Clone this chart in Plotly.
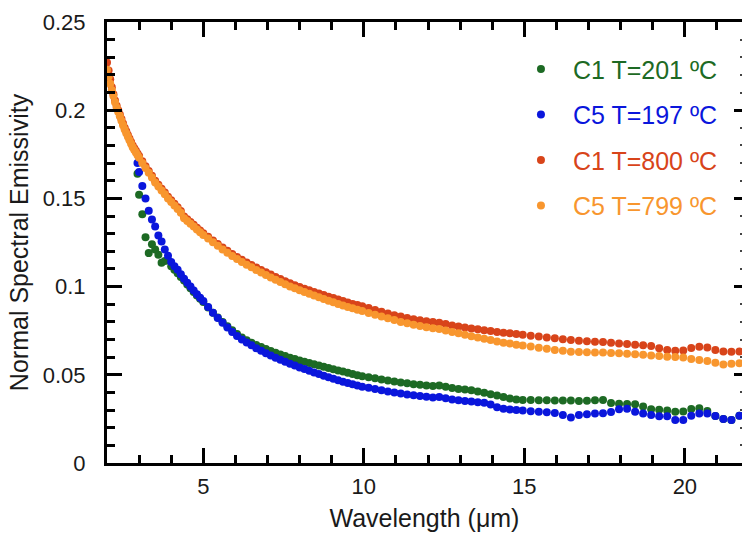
import plotly.graph_objects as go

# Wavelength grid (micrometres)
wavelength = [
    2.00, 2.05, 2.10, 2.15, 2.20, 2.25, 2.30, 2.35, 2.40, 2.45,
    2.50, 2.55, 2.60, 2.65, 2.70, 2.75, 2.80, 2.85, 2.90, 2.95,
    3.00, 3.10, 3.20, 3.30, 3.40, 3.50, 3.60, 3.70, 3.80, 3.90,
    4.00, 4.10, 4.20, 4.30, 4.40, 4.50, 4.60, 4.70, 4.80, 4.90,
    5.00, 5.15, 5.30, 5.45, 5.60, 5.75, 5.90, 6.05, 6.20, 6.35,
    6.50, 6.65, 6.80, 6.95, 7.10, 7.25, 7.40, 7.55, 7.70, 7.85,
    8.00, 8.15, 8.30, 8.45, 8.60, 8.75, 8.90, 9.05, 9.20, 9.35,
    9.50, 9.65, 9.80, 9.95, 10.15, 10.35, 10.55, 10.75, 10.95, 11.15,
    11.35, 11.55, 11.75, 11.95, 12.15, 12.35, 12.55, 12.75, 12.95, 13.15,
    13.35, 13.55, 13.75, 13.95, 14.15, 14.35, 14.55, 14.75, 14.95, 15.20,
    15.45, 15.70, 15.95, 16.20, 16.45, 16.70, 16.95, 17.20, 17.45, 17.70,
    17.95, 18.20, 18.45, 18.70, 18.95, 19.20, 19.45, 19.70, 19.95, 20.20,
    20.45, 20.70, 20.95, 21.20, 21.45, 21.70,
]
# low-temperature measurements start at 2.95 um
wavelength_low = wavelength[19:]

c1_800 = [
    0.2270, 0.2225, 0.2175, 0.2130, 0.2090, 0.2055, 0.2025, 0.2000, 0.1975, 0.1950,
    0.1925, 0.1900, 0.1880, 0.1860, 0.1840, 0.1820, 0.1800, 0.1785, 0.1770, 0.1755,
    0.1740, 0.1710, 0.1682, 0.1655, 0.1628, 0.1600, 0.1577, 0.1555, 0.1533, 0.1510,
    0.1490, 0.1470, 0.1450, 0.1428, 0.1398, 0.1382, 0.1366, 0.1350, 0.1334, 0.1318,
    0.1303, 0.1282, 0.1261, 0.1241, 0.1222, 0.1203, 0.1185, 0.1168, 0.1152, 0.1137,
    0.1122, 0.1108, 0.1094, 0.1081, 0.1068, 0.1055, 0.1043, 0.1031, 0.1019, 0.1008,
    0.0998, 0.0988, 0.0979, 0.0970, 0.0961, 0.0952, 0.0943, 0.0935, 0.0927, 0.0919,
    0.0910, 0.0902, 0.0895, 0.0888, 0.0878, 0.0867, 0.0857, 0.0847, 0.0838, 0.0830,
    0.0822, 0.0815, 0.0809, 0.0804, 0.0800, 0.0795, 0.0788, 0.0780, 0.0774, 0.0768,
    0.0763, 0.0758, 0.0753, 0.0748, 0.0743, 0.0739, 0.0735, 0.0731, 0.0727, 0.0722,
    0.0717, 0.0712, 0.0707, 0.0701, 0.0697, 0.0693, 0.0690, 0.0688, 0.0686, 0.0682,
    0.0678, 0.0674, 0.0671, 0.0667, 0.0663, 0.0650, 0.0640, 0.0636, 0.0638, 0.0652,
    0.0659, 0.0655, 0.0641, 0.0632, 0.0630, 0.0632,
]

c5_799 = [
    0.2230, 0.2190, 0.2150, 0.2115, 0.2080, 0.2045, 0.2015, 0.1990, 0.1965, 0.1940,
    0.1915, 0.1890, 0.1870, 0.1850, 0.1830, 0.1810, 0.1790, 0.1775, 0.1760, 0.1745,
    0.1730, 0.1700, 0.1672, 0.1645, 0.1618, 0.1590, 0.1567, 0.1545, 0.1523, 0.1500,
    0.1480, 0.1460, 0.1440, 0.1418, 0.1388, 0.1372, 0.1356, 0.1340, 0.1324, 0.1308,
    0.1293, 0.1272, 0.1251, 0.1231, 0.1211, 0.1192, 0.1174, 0.1156, 0.1140, 0.1124,
    0.1109, 0.1094, 0.1080, 0.1066, 0.1052, 0.1039, 0.1026, 0.1013, 0.1001, 0.0990,
    0.0979, 0.0969, 0.0959, 0.0949, 0.0939, 0.0929, 0.0920, 0.0911, 0.0902, 0.0893,
    0.0885, 0.0877, 0.0869, 0.0861, 0.0851, 0.0841, 0.0831, 0.0820, 0.0810, 0.0800,
    0.0792, 0.0784, 0.0777, 0.0770, 0.0764, 0.0759, 0.0751, 0.0742, 0.0735, 0.0727,
    0.0719, 0.0712, 0.0705, 0.0697, 0.0689, 0.0682, 0.0677, 0.0671, 0.0666, 0.0660,
    0.0654, 0.0648, 0.0641, 0.0636, 0.0631, 0.0629, 0.0628, 0.0627, 0.0626, 0.0624,
    0.0622, 0.0619, 0.0616, 0.0613, 0.0610, 0.0606, 0.0603, 0.0601, 0.0598, 0.0590,
    0.0584, 0.0578, 0.0568, 0.0558, 0.0562, 0.0566,
]

c1_201 = [
    0.1640,
    0.1520, 0.1410, 0.1280, 0.1190, 0.1240, 0.1210, 0.1180, 0.1135, 0.1145, 0.1150,
    0.1115, 0.1095, 0.1075, 0.1055, 0.1035, 0.1012, 0.0990, 0.0970, 0.0950, 0.0931,
    0.0912, 0.0882, 0.0852, 0.0825, 0.0799, 0.0775, 0.0752, 0.0731, 0.0712, 0.0696,
    0.0682, 0.0669, 0.0657, 0.0646, 0.0635, 0.0625, 0.0615, 0.0606, 0.0597, 0.0589,
    0.0581, 0.0574, 0.0567, 0.0560, 0.0553, 0.0546, 0.0539, 0.0532, 0.0525, 0.0518,
    0.0511, 0.0504, 0.0498, 0.0492, 0.0486, 0.0480, 0.0474, 0.0468, 0.0462, 0.0457,
    0.0452, 0.0447, 0.0443, 0.0439, 0.0436, 0.0440, 0.0432, 0.0425, 0.0420, 0.0416,
    0.0412, 0.0405, 0.0398, 0.0390, 0.0382, 0.0374, 0.0366, 0.0360, 0.0357, 0.0357,
    0.0356, 0.0356, 0.0355, 0.0355, 0.0354, 0.0352, 0.0353, 0.0356, 0.0357, 0.0340,
    0.0336, 0.0335, 0.0333, 0.0320, 0.0305, 0.0302, 0.0298, 0.0290, 0.0292, 0.0306,
    0.0310, 0.0295, 0.0266, 0.0250, 0.0244, 0.0268,
]

c5_197 = [
    0.1700,
    0.1650, 0.1570, 0.1500, 0.1430, 0.1380, 0.1340, 0.1290, 0.1255, 0.1210, 0.1175,
    0.1140, 0.1115, 0.1095, 0.1070, 0.1045, 0.1022, 0.1000, 0.0978, 0.0957, 0.0937,
    0.0918, 0.0885, 0.0852, 0.0822, 0.0795, 0.0768, 0.0742, 0.0720, 0.0700, 0.0683,
    0.0667, 0.0651, 0.0636, 0.0622, 0.0609, 0.0597, 0.0585, 0.0574, 0.0563, 0.0553,
    0.0542, 0.0533, 0.0523, 0.0513, 0.0504, 0.0495, 0.0486, 0.0477, 0.0469, 0.0461,
    0.0454, 0.0446, 0.0439, 0.0432, 0.0426, 0.0420, 0.0413, 0.0406, 0.0400, 0.0394,
    0.0389, 0.0384, 0.0380, 0.0375, 0.0371, 0.0374, 0.0367, 0.0360, 0.0356, 0.0352,
    0.0349, 0.0345, 0.0342, 0.0332, 0.0316, 0.0308, 0.0303, 0.0300, 0.0297, 0.0293,
    0.0290, 0.0287, 0.0284, 0.0272, 0.0258, 0.0272, 0.0277, 0.0280, 0.0282, 0.0289,
    0.0305, 0.0308, 0.0290, 0.0280, 0.0272, 0.0265, 0.0265, 0.0244, 0.0244, 0.0268,
    0.0280, 0.0280, 0.0266, 0.0250, 0.0244, 0.0268,
]

series_names = ["C1 T=201 ºC", "C5 T=197 ºC", "C1 T=800 ºC", "C5 T=799 ºC"]
series_colors = ["#1d6a24", "#0a16dc", "#d8441a", "#f8962e"]
series_x = [wavelength_low, wavelength_low, wavelength, wavelength]
series_y = [c1_201, c5_197, c1_800, c5_799]

FONT = "Arial, 'Liberation Sans', Helvetica, sans-serif"
TXT = "#1a1a1a"

fig = go.Figure()
for i, (name, col, xs, ys) in enumerate(zip(series_names, series_colors, series_x, series_y)):
    fig.add_trace(go.Scatter(
        x=xs, y=ys, mode="markers",
        name=f'<span style="color:{col}">{name}</span>',
        legendgroup=f"g{i}",
        marker=dict(color=col, size=8, line=dict(width=0)),
    ))

# empty trace so the top and right tick-only axes are drawn
fig.add_trace(go.Scatter(x=[], y=[], xaxis="x2", yaxis="y2", showlegend=False, hoverinfo="skip"))

axis_common = dict(
    showgrid=False, zeroline=False, showline=True, linecolor="black", linewidth=3,
    ticks="inside", tickcolor="black", tickwidth=2.5, ticklen=15,
    tickfont=dict(family=FONT, size=22, color=TXT),
)

fig.update_layout(
    width=742, height=538,
    margin=dict(l=107, r=0, t=22, b=75),
    paper_bgcolor="white", plot_bgcolor="white",
    font=dict(family=FONT, color=TXT),
    xaxis=dict(
        **axis_common, range=[2, 21.78], dtick=5, tick0=0, mirror=False,
        minor=dict(dtick=1, tick0=0, ticks="inside", ticklen=8, tickwidth=2.5, tickcolor="black"),
        title=dict(text="Wavelength (μm)", font=dict(family=FONT, size=25, color=TXT), standoff=12),
        ticklabelstandoff=2,
    ),
    xaxis2=dict(
        overlaying="x", side="top", matches="x", anchor="y",
        showgrid=False, zeroline=False, showline=True, linecolor="black", linewidth=3,
        showticklabels=False, ticks="inside", tickcolor="black", tickwidth=2.5, ticklen=15,
        dtick=5, tick0=0,
        minor=dict(dtick=1, tick0=0, ticks="inside", ticklen=8, tickwidth=2.5, tickcolor="black"),
    ),
    yaxis=dict(
        **axis_common, range=[0, 0.25], dtick=0.05, tick0=0, mirror=False,
        minor=dict(dtick=0.01, tick0=0, ticks="inside", ticklen=8, tickwidth=2.5, tickcolor="black"),
        title=dict(text="Normal Spectral Emissivity", font=dict(family=FONT, size=25, color=TXT), standoff=8),
        ticklabelstandoff=14,
    ),
    yaxis2=dict(
        overlaying="y", side="right", matches="y", anchor="x",
        showgrid=False, zeroline=False, showline=False, showticklabels=False,
        ticks="inside", tickcolor="black", tickwidth=2.5, ticklen=8, dtick=0.05, tick0=0,
        minor=dict(dtick=0.01, tick0=0, ticks="inside", ticklen=2, tickwidth=2, tickcolor="#444"),
    ),
    showlegend=True,
    legend=dict(
        x=0.633, y=0.945, xanchor="left", yanchor="top",
        bgcolor="rgba(255,255,255,0)", borderwidth=0,
        font=dict(family=FONT, size=25),
        itemwidth=54, traceorder="grouped", tracegroupgap=10,
    ),
)

fig.write_html("out.html")
